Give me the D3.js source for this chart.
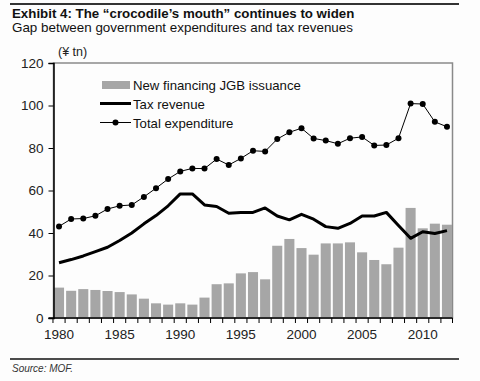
<!DOCTYPE html>
<html><head><meta charset="utf-8">
<script src="https://cdn.jsdelivr.net/npm/d3@7"></script>
<style>body{margin:0;background:#fdfdfd;} svg{display:block;font-family:"Liberation Sans",Arial,sans-serif;}</style>
</head><body><svg id="c" width="480" height="381"></svg>
<script>
const years = d3.range(1980, 2013);
const jgb = [14.3,12.8,13.6,13.2,12.7,12.2,11.1,9.1,6.9,6.3,6.9,6.3,9.6,15.9,16.3,21.0,21.6,18.2,34.0,37.2,32.9,29.8,35.1,35.1,35.6,30.9,27.3,25.3,33.1,51.8,42.2,44.4,43.9];
const tax = [26.0,27.5,29.2,31.2,33.3,36.5,40.0,44.3,48.2,52.8,58.4,58.4,53.2,52.5,49.3,49.7,49.7,51.8,48.0,46.2,48.8,46.5,43.0,42.2,44.5,48.0,48.0,49.7,43.5,37.5,40.6,39.8,41.1];
const expend = [43.1,46.6,46.8,48.1,51.3,52.8,53.2,57.0,61.1,65.4,69.0,70.4,70.3,74.8,72.0,75.1,78.7,78.4,84.2,87.4,89.3,84.5,83.5,82.0,84.6,85.2,81.2,81.4,84.6,100.9,100.7,92.3,90.0];
const yTicks = [0,20,40,60,80,100,120];
const xLabels = [1980,1985,1990,1995,2000,2005,2010];
const legendItems = ["New financing JGB issuance","Tax revenue","Total expenditure"];

const svg = d3.select("#c");
const L=53.5, R=452.5, T=63, B=318;
const x = d3.scaleBand().domain(years).range([L+0.5, R-0.5]).paddingInner(0.17).paddingOuter(0.0);
const y = d3.scaleLinear().domain([0,120]).range([B,T]);
const cx = d => x(d)+x.bandwidth()/2;

// header lines
svg.append("line").attr("x1",10).attr("x2",459).attr("y1",4).attr("y2",4).attr("stroke","#333").attr("stroke-width",2);
svg.append("text").attr("x",12).attr("y",18).attr("font-size",13.3).attr("font-weight","bold").attr("fill","#111").text("Exhibit 4: The “crocodile’s mouth” continues to widen");
svg.append("text").attr("x",12).attr("y",32).attr("font-size",13.4).attr("fill","#111").text("Gap between government expenditures and tax revenues");
svg.append("text").attr("x",58).attr("y",56).attr("font-size",12.5).attr("fill","#222").text("(¥ tn)");

// frame
svg.append("rect").attr("x",L).attr("y",T).attr("width",R-L).attr("height",B-T).attr("fill","none").attr("stroke","#8a8a8a").attr("stroke-width",1.5);

// bars
svg.append("g").selectAll("rect").data(years).join("rect")
  .attr("x",d=>x(d)).attr("width",x.bandwidth())
  .attr("y",(d,i)=>y(jgb[i])).attr("height",(d,i)=>B-y(jgb[i]))
  .attr("fill","#a6a6a6");

// tax line
svg.append("path").datum(years).attr("fill","none").attr("stroke","#000").attr("stroke-width",3).attr("stroke-linejoin","round")
  .attr("d", d3.line().x(d=>cx(d)).y((d,i)=>y(tax[i])));

// expenditure line
svg.append("path").datum(years).attr("fill","none").attr("stroke","#000").attr("stroke-width",1)
  .attr("d", d3.line().x(d=>cx(d)).y((d,i)=>y(expend[i])));
svg.append("g").selectAll("circle").data(years).join("circle")
  .attr("cx",d=>cx(d)).attr("cy",(d,i)=>y(expend[i])).attr("r",3).attr("fill","#000");

// y axis
const ya = svg.append("g").attr("transform",`translate(${L},0)`)
  .call(d3.axisLeft(y).tickValues(yTicks).tickSize(5).tickPadding(5));
ya.select(".domain").attr("stroke","#000").attr("stroke-width",1.5);
ya.selectAll("text").attr("font-size",13.5).attr("fill","#222").attr("font-family","Liberation Sans, Arial, sans-serif");

// x axis: ticks at band boundaries
const bounds = years.map(d=>x(d)-x.step()*x.paddingInner()/2).concat([R]);
const xa = svg.append("g");
xa.append("line").attr("x1",L-5).attr("x2",R).attr("y1",B).attr("y2",B).attr("stroke","#000").attr("stroke-width",1.5);
xa.selectAll("line.t").data(bounds).join("line").attr("class","t")
  .attr("x1",d=>d).attr("x2",d=>d).attr("y1",B).attr("y2",B+5).attr("stroke","#000").attr("stroke-width",1);
xa.selectAll("text").data(xLabels).join("text")
  .attr("x",d=>cx(d)).attr("y",B+21).attr("text-anchor","middle").attr("font-size",13.5).attr("fill","#222").text(d=>d);

// legend
const lg = svg.append("g");
lg.append("rect").attr("x",102).attr("y",81).attr("width",28).attr("height",8).attr("fill","#a6a6a6");
lg.append("line").attr("x1",100).attr("x2",131).attr("y1",103.5).attr("y2",103.5).attr("stroke","#000").attr("stroke-width",3);
lg.append("line").attr("x1",100).attr("x2",131).attr("y1",122.5).attr("y2",122.5).attr("stroke","#000").attr("stroke-width",1);
lg.append("circle").attr("cx",115.5).attr("cy",122.5).attr("r",3).attr("fill","#000");
lg.selectAll("text").data(legendItems).join("text")
  .attr("x",133).attr("y",(d,i)=>89.8+i*19.2).attr("font-size",13.2).attr("fill","#111").text(d=>d);

// footer
svg.append("line").attr("x1",10).attr("x2",459).attr("y1",359).attr("y2",359).attr("stroke","#111").attr("stroke-width",1.5);
svg.append("text").attr("x",12).attr("y",372).attr("font-size",10).attr("font-style","italic").attr("fill","#333").text("Source: MOF.");
</script></body></html>
